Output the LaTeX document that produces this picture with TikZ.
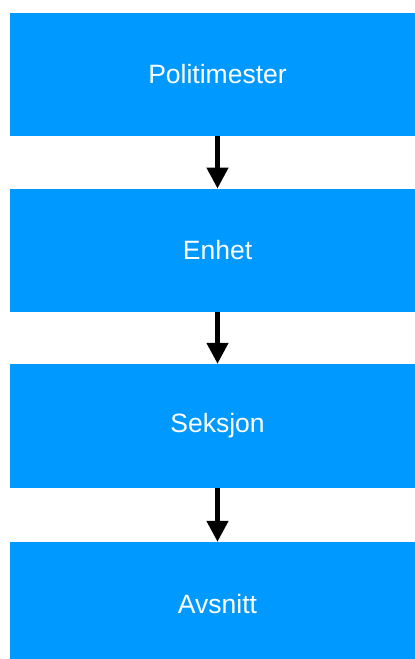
\documentclass[tikz,border=0pt]{standalone}
\usepackage{fontspec}
\setmainfont{Liberation Sans}
\usetikzlibrary{arrows.meta}
\definecolor{boxblue}{HTML}{0099FF}
\begin{document}
\begin{tikzpicture}[x=1pt,y=-1pt,
  level/.style={rectangle, fill=boxblue, draw=none, minimum width=415pt,
    minimum height=123.5pt, inner sep=0pt, text=white,
    font=\fontsize{26.5}{31}\selectfont},
  link/.style={line width=4.5pt, -{Triangle[width=21pt,length=21pt]}}]
  \useasboundingbox (0,0) rectangle (415,659);
  \node[level] (pm) at (217.5,74.25) {Politimester};
  \node[level] (en) at (217.5,250.5) {Enhet};
  \node[level] (sk) at (217.5,425.75) {Seksjon};
  \node[level] (av) at (217.5,603.75) {Avsnitt};
  \draw[link] (pm.south) -- (en.north);
  \draw[link] (en.south) -- (sk.north);
  \draw[link] (sk.south) -- (av.north);
\end{tikzpicture}
\end{document}
